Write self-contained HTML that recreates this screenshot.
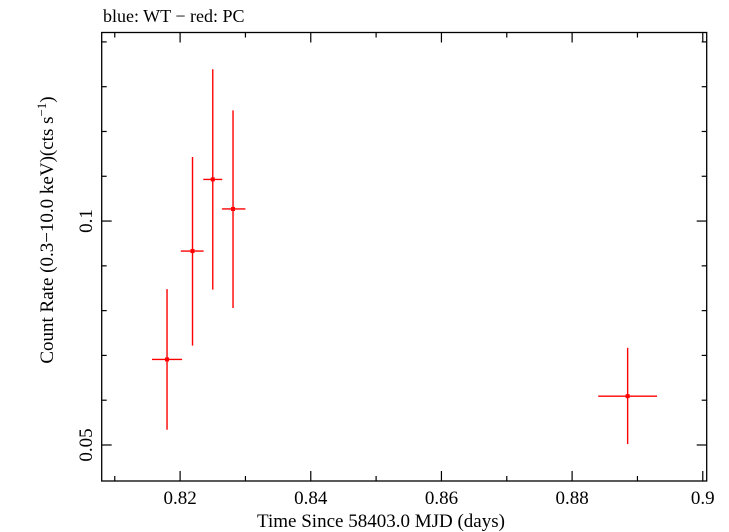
<!DOCTYPE html>
<html><head><meta charset="utf-8"><style>
html,body{margin:0;padding:0;background:#fff;}
svg{display:block;font-family:"Liberation Serif",serif;}
</style></head><body>
<svg id="chart" width="729" height="532" viewBox="0 0 729 532" xmlns="http://www.w3.org/2000/svg">
<text x="103" y="22" font-size="18">blue: WT − red: PC</text>
<rect x="101.7" y="32.5" width="605" height="448.5" fill="none" stroke="#000" stroke-width="1.3"/>
<g id="axes"></g>
<g id="marks"></g>
<text x="381" y="527" font-size="19" text-anchor="middle">Time Since 58403.0 MJD (days)</text>
<text transform="translate(53,230) rotate(-90)" font-size="19" text-anchor="middle">Count Rate (0.3−10.0 keV)(cts s<tspan dy="-7" font-size="13">−1</tspan><tspan dy="7">)</tspan></text>
</svg>
<script>
const times=[0.8180,0.8219,0.8250,0.8281,0.8885];
const timeLo=[0.8157,0.8201,0.82355,0.8264,0.8840];
const timeHi=[0.8203,0.8236,0.82645,0.8300,0.8930];
const rates=[0.0691,0.0933,0.1093,0.1027,0.0609];
const rateHi=[0.0848,0.1143,0.1339,0.1247,0.0717];
const rateLo=[0.0534,0.0722,0.0847,0.0806,0.0502];
const xTickLabels=["0.82","0.84","0.86","0.88","0.9"];
const yTickLabels=["0.05","0.1"];
const L=101.7,R=706.7,T=32.5,B=481;
const xMin=0.808,xMax=0.9006,yMin=0.04196,yMax=0.1421;
const xs=v=>L+(v-xMin)/(xMax-xMin)*(R-L);
const ys=v=>B-(v-yMin)/(yMax-yMin)*(B-T);
const NS="http://www.w3.org/2000/svg";
function mk(tag,attrs,parent){const e=document.createElementNS(NS,tag);for(const k in attrs)e.setAttribute(k,attrs[k]);parent.appendChild(e);return e;}
const ax=document.getElementById('axes'),mg=document.getElementById('marks');
for(let i=81;i<=90;i++){const v=i/100;const x=xs(v);const major=(i%2===0);const len=major?10:5;
 const t1=mk('line',{x1:x,x2:x,y1:B,y2:B-len,stroke:'#000','stroke-width':1.2},ax);
 
 
 const t2=mk('line',{x1:x,x2:x,y1:T,y2:T+len,stroke:'#000','stroke-width':1.2},ax);
 
 
}
xTickLabels.forEach(s=>{const t=mk('text',{x:xs(parseFloat(s)),y:504,'font-size':19,'text-anchor':'middle'},ax);t.textContent=s;
 
 });
for(let i=5;i<=14;i++){const v=i/100;const y=ys(v);const major=(i===5||i===10);const len=major?10:5;
 const t1=mk('line',{x1:L,x2:L+len,y1:y,y2:y,stroke:'#000','stroke-width':1.2},ax);
 
 
 const t2=mk('line',{x1:R,x2:R-len,y1:y,y2:y,stroke:'#000','stroke-width':1.2},ax);
 
 
}
yTickLabels.forEach(s=>{const y=ys(parseFloat(s));const t=mk('text',{transform:`translate(92,${y}) rotate(-90)`,'font-size':19,'text-anchor':'middle'},ax);t.textContent=s;
 
 });
times.forEach((t,i)=>{
 const g=mk('g',{},mg);
 
 
 mk('line',{x1:xs(t),x2:xs(t),y1:ys(rateHi[i]),y2:ys(rateLo[i]),stroke:'#f00','stroke-width':1.4},g);
 mk('line',{x1:xs(timeLo[i]),x2:xs(timeHi[i]),y1:ys(rates[i]),y2:ys(rates[i]),stroke:'#f00','stroke-width':1.4},g);
 mk('rect',{x:xs(t)-2,y:ys(rates[i])-2,width:4,height:4,fill:'#f00'},g);
});
</script>
</body></html>
